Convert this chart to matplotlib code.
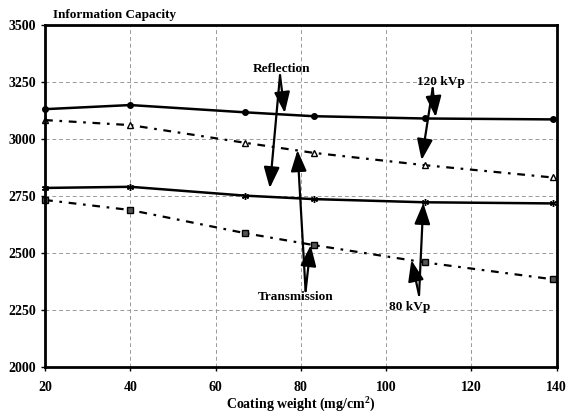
import numpy as np
import matplotlib
matplotlib.use('Agg')
import matplotlib.pyplot as plt

# coating weight (mg/cm2)
weight = [20, 40, 67, 83, 109, 139]

# information capacity
refl_120 = [3131, 3149, 3117, 3100, 3090, 3086]
trans_120 = [3083, 3061, 2983, 2939, 2885, 2831]
refl_80 = [2785, 2790, 2751, 2736, 2722, 2717]
trans_80 = [2732, 2688, 2586, 2534, 2458, 2384]

plt.rcParams['font.family'] = ['Liberation Serif', 'DejaVu Serif']
plt.rcParams['font.weight'] = 'bold'
plt.rcParams['mathtext.fontset'] = 'custom'
plt.rcParams['mathtext.bf'] = 'Liberation Serif:bold'
plt.rcParams['mathtext.rm'] = 'Liberation Serif:bold'

fig = plt.figure(figsize=(5.67, 4.12), dpi=100)
ax = fig.add_axes([0.0794, 0.11, 0.9026, 0.829])

dash = (0, (3.5, 3, 1.2, 3))
ax.plot(weight, refl_120, color='black', lw=1.8, marker='o', ms=4, clip_on=False)
ax.plot(weight, trans_120, color='black', lw=1.6, ls=dash, marker='^', ms=4, mfc='white', clip_on=False)
ax.plot(weight, refl_80, color='black', lw=1.8, marker=(6, 2, 0), ms=5, mew=1, clip_on=False)
ax.plot(weight, trans_80, color='black', lw=1.6, ls=dash, marker='s', ms=4, mfc='#555555', clip_on=False)

ax.set_xlim(20, 140)
ax.set_ylim(2000, 3500)
ax.set_xticks([20, 40, 60, 80, 100, 120, 140])
ax.set_yticks([2000, 2250, 2500, 2750, 3000, 3250, 3500])
ax.grid(True, color='#999999', ls=(0, (4, 3)), lw=0.7)
for s in ax.spines.values():
    s.set_linewidth(2)
ax.tick_params(labelsize=10, length=3, width=1)
for lab in ax.get_xticklabels() + ax.get_yticklabels():
    lab.set_fontweight('bold')
ax.tick_params(axis='x', pad=7)

ax.set_xlabel('Coating weight (mg/cm$^{2}$)', fontsize=10, fontweight='bold', labelpad=0)
fig.text(53 / 567, 1 - 15 / 412, 'Information Capacity', fontsize=9.5,
         fontweight='bold', va='center', ha='left')

arrow = dict(arrowstyle='-|>,head_length=0.8,head_width=0.3', color='black',
             lw=1.6, shrinkA=0, shrinkB=0, mutation_scale=16)

labels = [
    ('Reflection', (75.5, 3307), (75.1, 3280), [(72.7, 2784), (76.2, 3114)]),
    ('120 kVp', (112.8, 3250), (110.9, 3223), [(108.3, 2907), (111.6, 3096)]),
    ('Transmission', (78.8, 2307), (81.1, 2332), [(79.2, 2951), (82.3, 2534)]),
    ('80 kVp', (105.5, 2263), (107.7, 2315), [(108.7, 2719), (105.9, 2468)]),
]
for text, pos, start, tips in labels:
    ax.text(pos[0], pos[1], text, fontsize=9.5, fontweight='bold',
            ha='center', va='center', zorder=5)
    for tip in tips:
        ax.annotate('', xy=tip, xytext=start, arrowprops=arrow, zorder=6)

plt.savefig('out.png', dpi=100)
